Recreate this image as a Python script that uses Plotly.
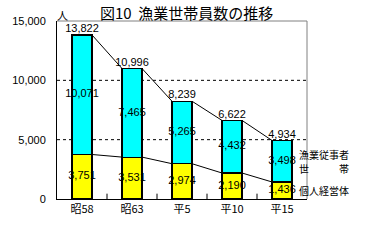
import plotly.graph_objects as go

categories = ["昭58", "昭63", "平5", "平10", "平15"]
kojin = [3751, 3531, 2974, 2190, 1436]          # 個人経営体 (yellow)
jujisha = [10071, 7465, 5265, 4432, 3498]       # 漁業従事者世帯 (cyan)
totals = [13822, 10996, 8239, 6622, 4934]
ytick_vals = [0, 5000, 10000, 15000]
ytick_text = ["0", "5,000", "10,000", "15,000"]

xs = list(range(len(categories)))
hw = 0.2
JP = "Noto Sans CJK JP"
NUM = "Liberation Sans"

fig = go.Figure()
fig.add_trace(go.Bar(x=xs, y=kojin, width=0.4, marker=dict(color="#FFFF00", line=dict(color="black", width=1.2))))
fig.add_trace(go.Bar(x=xs, y=jujisha, width=0.4, marker=dict(color="#00FFFF", line=dict(color="black", width=1.2))))

# series lines
def series(vals):
    lx, ly = [], []
    for i in range(len(vals) - 1):
        lx += [xs[i] + hw, xs[i + 1] - hw, None]
        ly += [vals[i], vals[i + 1], None]
    return lx, ly

for vals in (kojin, totals):
    lx, ly = series(vals)
    fig.add_trace(go.Scatter(x=lx, y=ly, mode="lines", line=dict(color="black", width=1), hoverinfo="skip"))

fmt = lambda v: f"{v:,}"
fig.add_trace(go.Scatter(x=xs, y=[v / 2 for v in kojin], mode="text", text=[fmt(v) for v in kojin],
                         textfont=dict(family=NUM, size=11, color="black")))
fig.add_trace(go.Scatter(x=xs, y=[k + j / 2 for k, j in zip(kojin, jujisha)], mode="text",
                         text=[fmt(v) for v in jujisha], textfont=dict(family=NUM, size=11, color="black")))
fig.add_trace(go.Scatter(x=xs, y=totals, mode="text", text=[fmt(v) for v in totals], textposition="top center",
                         textfont=dict(family=NUM, size=11, color="black")))

fig.update_layout(
    width=365, height=241, margin=dict(l=57, r=58, t=21, b=42),
    barmode="stack", showlegend=False, plot_bgcolor="white", paper_bgcolor="white",
    xaxis=dict(range=[-0.5, 4.5], tickvals=xs, ticktext=categories, showgrid=False, zeroline=False,
               showline=True, linecolor="black", linewidth=1, mirror=False,
               tickfont=dict(family=JP, size=11, color="black"), ticks=""),
    yaxis=dict(range=[0, 15000], tickvals=ytick_vals, ticktext=ytick_text, showgrid=False, zeroline=False,
               showline=True, linecolor="black", linewidth=1, ticks="",
               tickfont=dict(family=NUM, size=11, color="black"), ticklabelstandoff=8),
)
# frame top/right gray
fig.add_shape(type="line", xref="paper", yref="paper", x0=0, x1=1, y0=1, y1=1, line=dict(color="#808080", width=1))
fig.add_shape(type="line", xref="paper", yref="paper", x0=1, x1=1, y0=0, y1=1, line=dict(color="#808080", width=1))
# dashed gridlines
for v in ytick_vals[1:3]:
    fig.add_shape(type="line", xref="paper", yref="y", x0=0, x1=1, y0=v, y1=v,
                  line=dict(color="black", width=1, dash="3px,3px"), layer="below")
# inside tick marks between categories
for i in range(len(categories) - 1):
    fig.add_shape(type="line", xref="x", yref="paper", x0=i + 0.5, x1=i + 0.5, y0=0, y1=0.03, line=dict(color="black", width=1))

fig.add_annotation(text="図10  漁業世帯員数の推移", xref="paper", yref="paper", x=0.516, y=1.0, yshift=9,
                   showarrow=False, font=dict(family=JP, size=15, color="black"), xanchor="center", yanchor="middle")
fig.add_annotation(text="人", xref="paper", yref="paper", x=0, y=1, xshift=-2, yshift=6, showarrow=False,
                   xanchor="left", yanchor="middle", font=dict(family=JP, size=11, color="black"))
mid = kojin[-1] + jujisha[-1] / 2
fig.add_annotation(text="漁業従事者", xref="paper", yref="y", x=1, xshift=-10, y=mid, yshift=7,
                   showarrow=False, xanchor="left", yanchor="middle", align="left",
                   font=dict(family=JP, size=10, color="black"))
fig.add_annotation(text="世　　　帯", xref="paper", yref="y", x=1, xshift=-10, y=mid, yshift=-7,
                   showarrow=False, xanchor="left", yanchor="middle", align="left",
                   font=dict(family=JP, size=10, color="black"))
fig.add_annotation(text="個人経営体", xref="paper", yref="y", x=1, xshift=-10, y=kojin[-1] / 2,
                   showarrow=False, xanchor="left", yanchor="middle", align="left",
                   font=dict(family=JP, size=10, color="black"))

fig.write_html("out.html")
